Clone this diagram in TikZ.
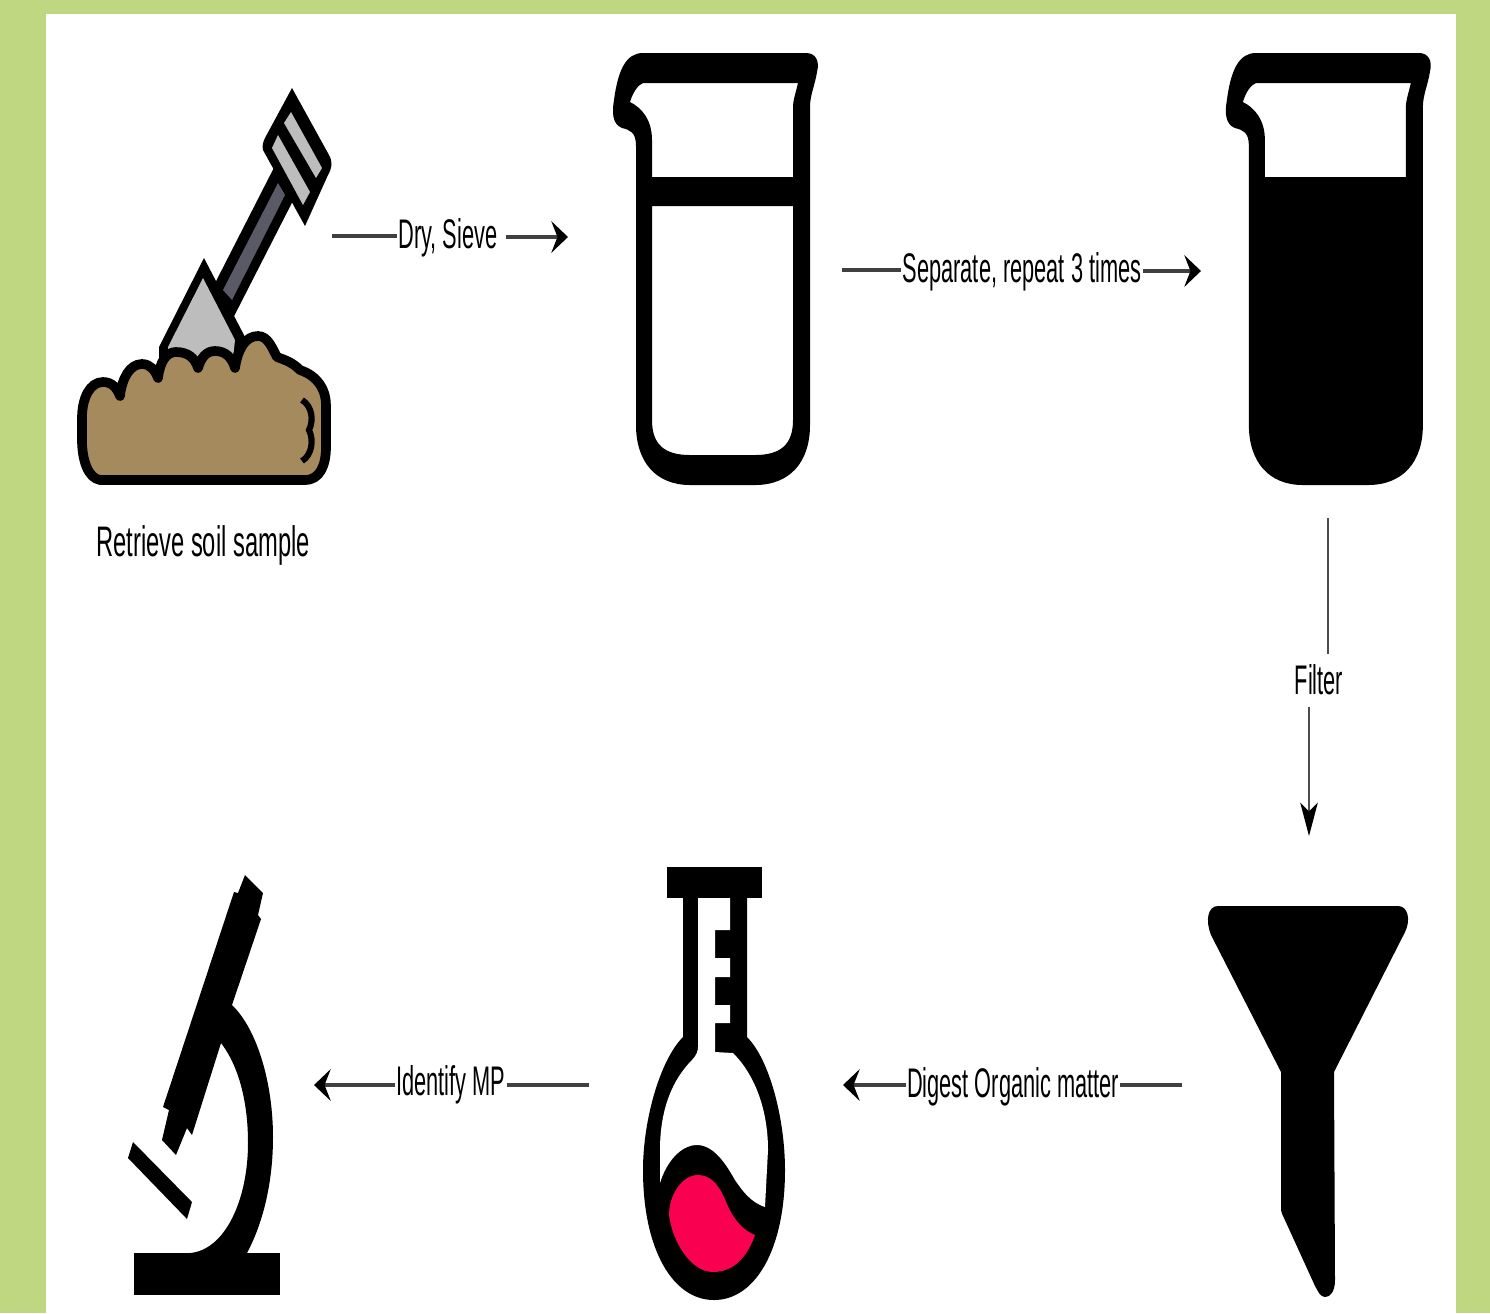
\documentclass[tikz,border=0pt]{standalone}
\usepackage{fontspec}
\setmainfont{Liberation Sans}
\usepackage{xcolor}
\usetikzlibrary{arrows.meta}
\definecolor{mygreen}{RGB}{191,215,128}
\definecolor{mysoil}{RGB}{165,138,94}
\definecolor{mygrey}{RGB}{189,189,189}
\definecolor{myhandle}{RGB}{90,90,102}
\definecolor{mypink}{RGB}{250,0,80}
\tikzset{
  flowlabel/.style={font=\fontsize{12.4}{15}\selectfont,inner sep=0.5pt,transform shape,yscale=1.9,text=black},
  soillabel/.style={font=\fontsize{13.5}{15}\selectfont,inner sep=0.5pt,transform shape,yscale=1.8,text=black},
  flowline/.style={line width=1.8pt,color=black!75},
  flowarrow/.style={flowline,-{Stealth[length=9.5pt,width=18pt,inset=3.5pt,color=black]}},
  thinline/.style={line width=1pt,color=black!70},
  thinarrow/.style={thinline,-{Stealth[length=19pt,width=10pt,inset=5pt,color=black]}}
}
% beaker, outer and inner outline
\newcommand{\beakerouter}{(643,53) -- (806,53) .. controls (815,53) and (820,60) .. (817,72)
  .. controls (815,85) and (810,95) .. (810,107) -- (810,425) .. controls (810,462) and (790,485) .. (755,485)
  -- (690,485) .. controls (656,485) and (636,462) .. (636,425) -- (636,146) .. controls (636,132) and (630,130) .. (622,128)
  .. controls (612,124) and (612,112) .. (614,100) .. controls (618,70) and (626,53) .. (643,53) -- cycle}
\begin{document}
\begin{tikzpicture}[x=0.02cm,y=-0.02cm]
\useasboundingbox (0,0) rectangle (1490,1313);
\fill[mygreen] (0,0) rectangle (1490,1313);
\fill[white] (46,14) rectangle (1456,1313);

% shovel
\fill (283,150) -- (300,187) -- (227,330) -- (210,293) -- cycle;
\fill[myhandle] (278,183) -- (285,195) -- (232,300) -- (223,290) -- cycle;
\fill (292,88) -- (329,155) .. controls (333,162) and (332,168) .. (328,175) -- (305,226) -- (263,150) .. controls (262,146) and (263,142) .. (265,138) -- cycle;
\fill[mygrey] (291,112) -- (322,168) -- (316,178) -- (284,123) -- cycle;
\fill[mygrey] (278,135) -- (310,192) -- (303,205) -- (272,148) -- cycle;
\fill (204,258) -- (245,337) -- (240,365) -- (159,365) -- (159,347) -- cycle;
\fill[mygrey] (203,278) -- (235,340) -- (232,368) -- (168,368) -- (168,347) -- cycle;
\draw[line width=5.5pt,fill=mysoil,line join=round] (100,480) .. controls (88,478) and (82,460) .. (82,440) -- (82,418)
  .. controls (82,398) and (90,382) .. (103,382) .. controls (112,382) and (117,388) .. (120,396)
  .. controls (122,378) and (130,364) .. (142,364) .. controls (150,364) and (155,370) .. (158,378)
  .. controls (160,362) and (166,352) .. (176,352) .. controls (188,352) and (195,358) .. (198,368)
  .. controls (201,358) and (206,351) .. (215,351) .. controls (226,351) and (232,358) .. (235,368)
  .. controls (238,348) and (246,336) .. (258,336) .. controls (268,336) and (272,348) .. (277,357)
  .. controls (285,360) and (292,362) .. (300,370) .. controls (318,376) and (326,390) .. (326,405)
  -- (326,447) .. controls (326,465) and (320,480) .. (305,480) -- cycle;
\draw[line width=3.5pt] (302,400) .. controls (312,406) and (314,420) .. (309,430) .. controls (314,440) and (312,455) .. (302,461);

% first beaker
\fill[even odd rule] \beakerouter
  (643,83) -- (798,83) .. controls (796,92) and (793,100) .. (793,107) -- (793,177) -- (652,177) -- (652,140) .. controls (652,120) and (642,108) .. (630,102) .. controls (633,92) and (638,85) .. (643,83) -- cycle
  (652,206) -- (793,206) -- (793,420) .. controls (793,445) and (780,455) .. (755,455) -- (690,455) .. controls (665,455) and (652,445) .. (652,420) -- cycle;

% second beaker
\begin{scope}[xshift=12.26cm]
\fill[even odd rule] \beakerouter
  (643,83) -- (798,83) .. controls (796,92) and (793,100) .. (793,107) -- (793,177) -- (652,177) -- (652,140) .. controls (652,120) and (642,108) .. (630,102) .. controls (633,92) and (638,85) .. (643,83) -- cycle;
\end{scope}

% funnel
\fill (1218,906) -- (1398,906) .. controls (1408,906) and (1411,920) .. (1405,932) -- (1334,1072) -- (1335,1280)
  .. controls (1335,1292) and (1330,1297) .. (1325,1297) .. controls (1320,1297) and (1318,1291) .. (1315,1286)
  -- (1284,1218) .. controls (1282,1214) and (1281,1212) .. (1281,1208) -- (1281,1072) -- (1211,935)
  .. controls (1205,920) and (1208,906) .. (1218,906) -- cycle;

% flask
\fill (667,867) rectangle (762,898);
\fill (683,898) -- (747,898) -- (747,1037) .. controls (770,1060) and (785,1120) .. (785,1170) .. controls (785,1250) and (755,1300) .. (714,1300)
  .. controls (673,1300) and (643,1250) .. (643,1170) .. controls (643,1120) and (660,1060) .. (683,1037) -- cycle;
\fill[white] (698,898) -- (730,898) -- (730,930) -- (715,930) -- (715,958) -- (730,958) -- (730,977) -- (715,977) -- (715,1005) -- (730,1005)
  -- (730,1023) -- (715,1023) -- (715,1052) -- (733,1053) .. controls (755,1075) and (768,1110) .. (768,1150) -- (765,1207)
  .. controls (750,1202) and (742,1190) .. (735,1180) .. controls (725,1162) and (713,1145) .. (697,1145)
  .. controls (680,1145) and (666,1163) .. (660,1183) -- (660,1150) .. controls (660,1110) and (672,1080) .. (692,1060) .. controls (697,1055) and (698,1050) .. (698,1047) -- cycle;
\fill[mypink] (698,1175) .. controls (682,1175) and (669,1195) .. (669,1215) .. controls (672,1240) and (690,1272) .. (713,1272)
  .. controls (735,1272) and (748,1255) .. (755,1235) .. controls (738,1228) and (730,1212) .. (724,1197) .. controls (718,1184) and (710,1175) .. (698,1175) -- cycle;

% microscope
\fill (134,1253) rectangle (280,1295);
\fill (133,1142) -- (192,1202) -- (187,1219) -- (128,1158) -- cycle;
\fill (245,875) -- (263,893) -- (258,915) -- (261,919) -- (232,1005) .. controls (258,1030) and (273,1085) .. (273,1137)
  .. controls (273,1185) and (262,1225) .. (247,1253) -- (190,1253) .. controls (225,1250) and (248,1200) .. (248,1143)
  .. controls (248,1100) and (238,1065) .. (221,1043) -- (192,1135) -- (187,1128) -- (176,1155) -- (162,1140) -- (169,1110) -- (163,1107)
  -- (234,892) -- (238,893) -- cycle;

% labels and connectors
\coordinate (dry-start) at (332,236);
\coordinate (dry-end) at (568,237);
\node[flowlabel] (dry) at (448,238) {Dry, Sieve};
\draw[flowline] (dry-start) -- (dry.west |- dry-start);
\draw[flowarrow] ([xshift=4pt]dry.east |- dry-end) -- (dry-end);

\coordinate (sep-start) at (842,270);
\coordinate (sep-end) at (1201,271);
\node[flowlabel] (sep) at (1022,272) {Separate, repeat 3 times};
\draw[flowline] (sep-start) -- (sep.west |- sep-start);
\draw[flowarrow] (sep.east |- sep-end) -- (sep-end);

\coordinate (filter-start) at (1328,518);
\coordinate (filter-end) at (1309,836);
\node[flowlabel] (filter) at (1319,680) {Filter};
\draw[thinline] (filter-start) -- ([yshift=5pt]filter.north -| filter-start);
\draw[thinarrow] ([yshift=-5.5pt]filter.south -| filter-end) -- (filter-end);

\coordinate (digest-start) at (1182,1085);
\coordinate (digest-end) at (843,1085);
\node[flowlabel] (digest) at (1013,1087) {Digest Organic matter};
\draw[flowline] (digest-start) -- (digest.east |- digest-start);
\draw[flowarrow] (digest.west |- digest-end) -- (digest-end);

\coordinate (mp-start) at (589,1085);
\coordinate (mp-end) at (314,1085);
\node[flowlabel] (mp) at (451,1085) {Identify MP};
\draw[flowline] (mp-start) -- (mp.east |- mp-start);
\draw[flowarrow] (mp.west |- mp-end) -- (mp-end);

\node[soillabel] (soil) at (203,545) {Retrieve soil sample};

\end{tikzpicture}
\end{document}
